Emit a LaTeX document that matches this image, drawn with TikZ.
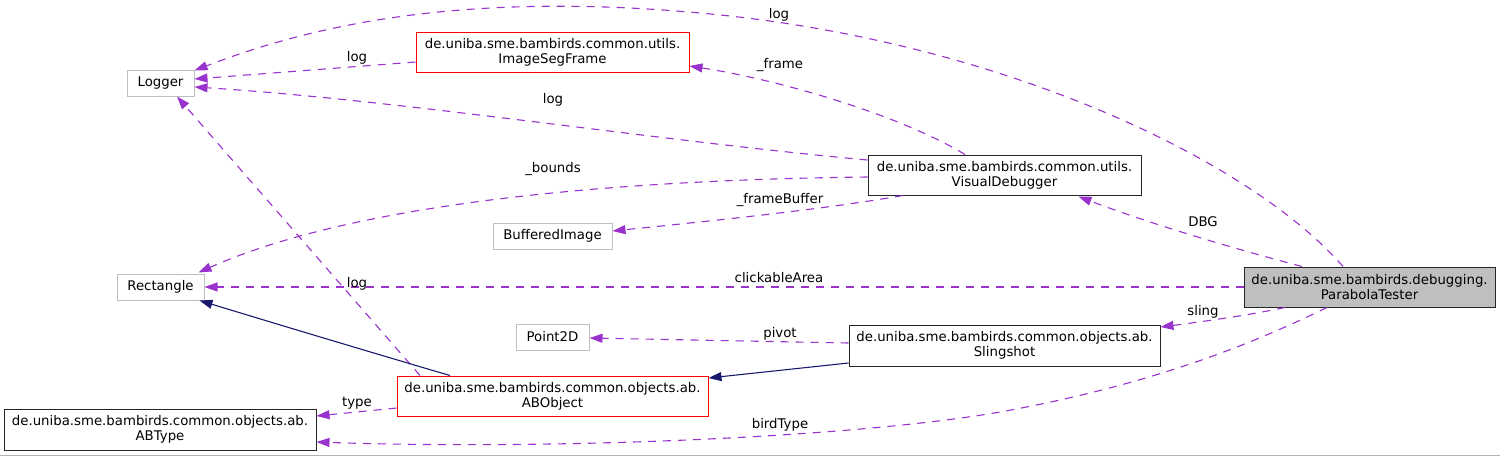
\documentclass[tikz,border=0pt]{standalone}
\usepackage{fontspec}
\setmainfont{DejaVu Sans}
\usetikzlibrary{arrows.meta}
\definecolor{edgepurple}{HTML}{9A32CD}
\definecolor{inhnavy}{HTML}{191970}
\definecolor{extgrey}{HTML}{BFBFBF}
\definecolor{redbox}{HTML}{FF0000}
\definecolor{curfill}{HTML}{BFBFBF}
\begin{document}
\begin{tikzpicture}[x=1pt,y=-1pt,
  every node/.style={font=\fontsize{13.3}{15}\selectfont, text=black},
  cls/.style={rectangle, draw, line width=1pt, inner sep=0pt, align=center},
  ext/.style={cls, draw=extgrey},
  redcls/.style={cls, draw=redbox},
  doc/.style={cls, draw=black!85},
  cur/.style={cls, draw=black!85, fill=curfill},
  usage/.style={draw=edgepurple, line width=1.1pt, dash pattern=on 8pt off 7pt, -{Triangle[length=13pt,width=9pt]}},
  inherit/.style={draw=inhnavy, line width=1.1pt, -{Triangle[length=13pt,width=9pt]}},
  lbl/.style={inner sep=0pt}
]
\useasboundingbox (0,0) rectangle (1500,456);
\fill[white] (0,0) rectangle (1500,456);
\draw[line width=1pt, draw=black!30] (0,455) -- (1500,455);

% nodes
\node[ext, minimum width=67pt, minimum height=26pt] (logger) at (160.5,83) {Logger};
\node[redcls, minimum width=273pt, minimum height=40pt] (isf) at (552.5,52) {de.uniba.sme.bambirds.common.utils.\\ImageSegFrame};
\node[doc, minimum width=273pt, minimum height=40pt] (vd) at (1004.5,175) {de.uniba.sme.bambirds.common.utils.\\VisualDebugger};
\node[ext, minimum width=119pt, minimum height=26pt] (bi) at (552.5,236) {BufferedImage};
\node[ext, minimum width=87pt, minimum height=26pt] (rect) at (160.5,287) {Rectangle};
\node[cur, minimum width=251pt, minimum height=40pt] (pt) at (1369.5,287) {de.uniba.sme.bambirds.debugging.\\ParabolaTester};
\node[ext, minimum width=73pt, minimum height=26pt] (p2d) at (552.5,337) {Point2D};
\node[doc, minimum width=311pt, minimum height=41pt] (sling) at (1004.5,345.5) {de.uniba.sme.bambirds.common.objects.ab.\\Slingshot};
\node[redcls, minimum width=311pt, minimum height=40pt] (abo) at (552.5,396) {de.uniba.sme.bambirds.common.objects.ab.\\ABObject};
\node[doc, minimum width=312pt, minimum height=41pt] (abt) at (160,429.5) {de.uniba.sme.bambirds.common.objects.ab.\\ABType};

% edges
\draw[usage] ([xshift=-26.5pt]pt.north) .. controls (1250,160) and (1000,40) .. (700,13)
   .. controls (450,-10) and (300,30) .. ([yshift=-1pt]logger.north east);
\node[lbl] (l1) at (779,15) {log};

\draw[usage] ([yshift=-10pt]isf.west) -- ([yshift=4pt]logger.east);
\node[lbl] (l2) at (357,58) {log};

\draw[usage] ([yshift=15pt]vd.west) .. controls (650,140) and (400,100) .. ([yshift=-4pt]logger.east);
\node[lbl] (l3) at (553,100) {log};

\draw[usage] ([xshift=-39.5pt]vd.north) .. controls (900,115) and (780,80) .. ([yshift=-14pt]isf.east);
\node[lbl] (l4) at (780,65) {\_frame};

\draw[usage] ([yshift=-2pt]vd.west) .. controls (600,180) and (350,205) .. ([xshift=-6pt,yshift=1pt]rect.north east);
\node[lbl] (l5) at (553,169) {\_bounds};

\draw[usage] ([xshift=-101.5pt]vd.south) .. controls (820,210) and (700,222) .. ([yshift=5pt]bi.east);
\node[lbl] (l6) at (780,200) {\_frameBuffer};

\draw[usage] ([xshift=-67.5pt]pt.north) .. controls (1220,245) and (1140,220) .. ([xshift=74pt,yshift=-1pt]vd.south);
\node[lbl] (l7) at (1203,222) {DBG};

\draw[usage] (pt.west) -- (rect.east);
\node[lbl] (l8) at (779,278) {clickableArea};

\draw[usage] ([xshift=-84.5pt]pt.south) .. controls (1250,315) and (1200,322) .. ([yshift=18.5pt]sling.east);
\node[lbl] (l9) at (1203,312) {sling};

\draw[usage] ([xshift=-42.5pt]pt.south) .. controls (1250,345) and (1150,385) .. (1000,412)
   .. controls (850,438) and (550,450) .. ([yshift=-12.5pt]abt.east);
\node[lbl] (l10) at (780,425) {birdType};

\draw[usage] ([xshift=-132.5pt]abo.north) -- ([xshift=16.5pt]logger.south);
\node[lbl] (l11) at (357,284) {log};

\draw[usage] ([yshift=-12pt]abo.west) -- ([yshift=13.5pt]abt.east);
\node[lbl] (l12) at (357,403) {type};

\draw[usage] ([yshift=2.5pt]sling.west) -- ([yshift=-1pt]p2d.east);
\node[lbl] (l13) at (780,334) {pivot};

\draw[inherit] ([yshift=-17.5pt]sling.west) -- ([yshift=18pt]abo.east);
\draw[inherit] ([xshift=-102.5pt]abo.north) .. controls (380,355) and (280,325) .. ([xshift=-5pt]rect.south east);
\end{tikzpicture}
\end{document}
